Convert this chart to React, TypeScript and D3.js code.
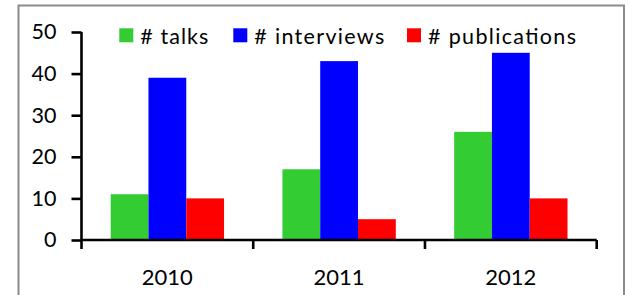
import React, { useEffect, useRef } from 'react'
import * as d3 from 'd3'

const years = ['2010', '2011', '2012']
const seriesNames = ['# talks', '# interviews', '# publications']
const seriesColors = ['#33cc33', '#0000ff', '#ff0000']
const talks = [11, 17, 26]
const interviews = [39, 43, 45]
const publications = [10, 5, 10]
const yTicks = [0, 10, 20, 30, 40, 50]

const App = () => {
    const svgRef = useRef<SVGSVGElement>(null)

    useEffect(() => {
        document.body.style.margin = '0'
        const svg: any = d3.select(svgRef.current)
        svg.selectAll('*').remove()

        const font = 'Lato, "Open Sans", sans-serif'
        const values = [talks, interviews, publications]

        // outer frame
        svg.append('rect')
            .attr('x', 18.5).attr('y', 5.5)
            .attr('width', 605.5).attr('height', 310)
            .attr('fill', 'white')
            .attr('stroke', '#8c8c8c')
            .attr('stroke-width', 2)

        const x0 = d3.scaleBand().domain(years).range([81.5, 596.7]).padding(0)
        const x1 = d3.scaleBand().domain(seriesNames)
            .range([0, x0.bandwidth() * 0.66])
        const groupOffset = x0.bandwidth() * 0.17
        const y = d3.scaleLinear().domain([0, 50]).range([240, 32])

        const g = svg.append('g')

        seriesNames.forEach((name, si) => {
            g.selectAll('.bar' + si)
                .data(years)
                .join('rect')
                .attr('class', 'bar' + si)
                .attr('x', (d: string) => (x0(d) as number) + groupOffset + (x1(name) as number))
                .attr('width', x1.bandwidth())
                .attr('y', (_: string, i: number) => y(values[si][i]))
                .attr('height', (_: string, i: number) => y(0) - y(values[si][i]))
                .attr('fill', seriesColors[si])
        })

        // y axis
        const yAxis = g.append('g')
            .attr('transform', 'translate(81.5,0)')
            .call(d3.axisLeft(y).tickValues(yTicks).tickSize(10).tickPadding(15))
        yAxis.select('.domain').attr('stroke', 'black').attr('stroke-width', 2.6)
            .attr('d', `M0,${y(50)}V${y(0)}`)
        yAxis.selectAll('.tick line').attr('stroke', 'black').attr('stroke-width', 2.6)
        yAxis.selectAll('.tick text')
            .attr('font-family', font).attr('font-size', 21.5).attr('fill', 'black')

        // x axis
        const xAxis = g.append('g').attr('transform', `translate(0,${y(0)})`)
        xAxis.append('line')
            .attr('x1', 81.5).attr('x2', 596.7)
            .attr('stroke', 'black').attr('stroke-width', 2.6)
        const edges = years.map((d) => x0(d) as number).concat([596.7])
        xAxis.selectAll('.xtick')
            .data(edges)
            .join('line')
            .attr('class', 'xtick')
            .attr('x1', (d: number) => d).attr('x2', (d: number) => d)
            .attr('y1', 0).attr('y2', 9)
            .attr('stroke', 'black').attr('stroke-width', 2.6)
        xAxis.selectAll('.xlabel')
            .data(years)
            .join('text')
            .attr('class', 'xlabel')
            .attr('x', (d: string) => (x0(d) as number) + x0.bandwidth() / 2)
            .attr('y', 45)
            .attr('text-anchor', 'middle')
            .attr('font-family', font).attr('font-size', 22)
            .text((d: string) => d)

        // legend
        const legendX = [119.3, 233.3, 407]
        const legendW = [68, 130, 148]
        const legend = svg.append('g')
        seriesNames.forEach((name, i) => {
            legend.append('rect')
                .attr('x', legendX[i]).attr('y', 28.3)
                .attr('width', 14).attr('height', 14)
                .attr('fill', seriesColors[i])
            legend.append('text')
                .attr('x', legendX[i] + 21).attr('y', 44)
                .attr('font-family', font).attr('font-size', 21.5)
                .attr('textLength', legendW[i])
                .attr('lengthAdjust', 'spacing')
                .text(name)
        })
    })

    return (
        <svg ref={svgRef} width={628} height={295} style={{ display: 'block' }}></svg>
    )
}

export default App
